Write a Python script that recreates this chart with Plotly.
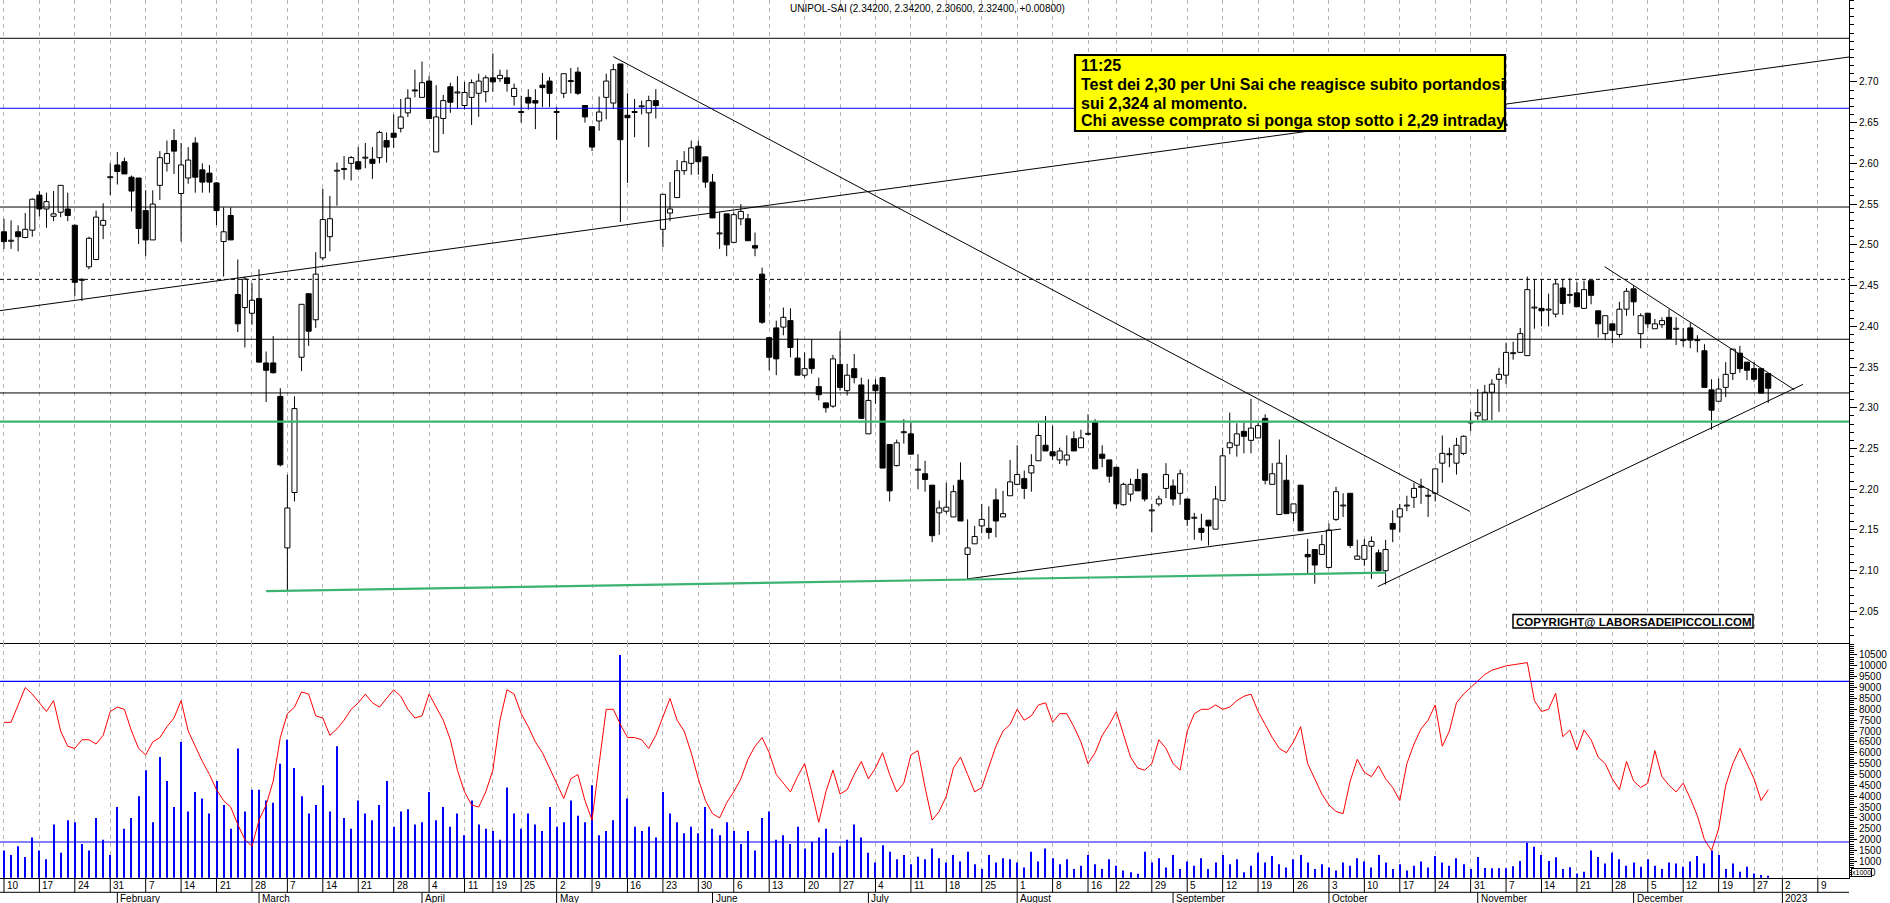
import plotly.graph_objects as go
import pandas as pd

W, H = 1890, 903
FONT = "Liberation Sans, Arial, sans-serif"

# ---------------- calendar (trading days, Borsa Italiana) ----------------
HOLIDAYS = ["2022-04-15", "2022-04-18", "2022-08-15", "2022-12-26"]
cal = pd.bdate_range("2022-01-10", "2023-01-13")
cal = cal[~cal.isin(pd.to_datetime(HOLIDAYS))]

WEEK_LABELS = ["10", "17", "24", "31", "7", "14", "21", "28", "7", "14", "21", "28",
               "4", "11", "19", "25", "2", "9", "16", "23", "30", "6", "13", "20", "27",
               "4", "11", "18", "25", "1", "8", "16", "22", "29", "5", "12", "19", "26",
               "3", "10", "17", "24", "31", "7", "14", "21", "28", "5", "12", "19", "27",
               "2", "9"]
MONTH_LABELS = ["February", "March", "April", "May", "June", "July", "August",
                "September", "October", "November", "December", "2023"]

week_pos = [k for k in range(len(cal))
            if k == 0 or cal[k].isocalendar()[1] != cal[k - 1].isocalendar()[1]]
month_pos = [k for k in range(1, len(cal)) if cal[k].month != cal[k - 1].month]

# ---------------- price data (UNIPOL-SAI daily) ----------------
OPEN = [
    2.516, 2.505, 2.516, 2.509, 2.518, 2.561, 2.544, 2.535, 2.540, 2.544,
    2.524, 2.457, 2.473, 2.482, 2.524, 2.583, 2.598, 2.602, 2.583, 2.582,
    2.542, 2.506, 2.573, 2.600, 2.628, 2.563, 2.582, 2.625, 2.592, 2.588,
    2.576, 2.504, 2.536, 2.439, 2.423, 2.416, 2.434, 2.355, 2.355, 2.314,
    2.128, 2.196, 2.362, 2.440, 2.408, 2.484, 2.510, 2.591, 2.593, 2.600,
    2.602, 2.607, 2.605, 2.607, 2.628, 2.637, 2.643, 2.662, 2.690, 2.681,
    2.701, 2.614, 2.655, 2.694, 2.687, 2.671, 2.681, 2.686, 2.688, 2.705,
    2.704, 2.705, 2.682, 2.663, 2.681, 2.677, 2.696, 2.701, 2.663, 2.686,
    2.701, 2.712, 2.671, 2.645, 2.652, 2.681, 2.674, 2.722, 2.659, 2.663,
    2.670, 2.662, 2.677, 2.519, 2.539, 2.558, 2.591, 2.600, 2.621, 2.608,
    2.577, 2.514, 2.538, 2.503, 2.532, 2.532, 2.499, 2.464, 2.386, 2.398,
    2.399, 2.407, 2.361, 2.340, 2.360, 2.326, 2.306, 2.302, 2.353, 2.321,
    2.348, 2.328, 2.268, 2.328, 2.337, 2.255, 2.229, 2.270, 2.268, 2.224,
    2.219, 2.205, 2.171, 2.173, 2.166, 2.211, 2.120, 2.133, 2.155, 2.152,
    2.187, 2.166, 2.192, 2.206, 2.213, 2.220, 2.235, 2.254, 2.246, 2.236,
    2.236, 2.262, 2.251, 2.268, 2.282, 2.243, 2.236, 2.227, 2.181, 2.194,
    2.212, 2.219, 2.174, 2.182, 2.201, 2.204, 2.195, 2.188, 2.165, 2.152,
    2.162, 2.151, 2.186, 2.251, 2.254, 2.271, 2.260, 2.263, 2.287, 2.206,
    2.169, 2.211, 2.171, 2.205, 2.120, 2.126, 2.120, 2.104, 2.163, 2.180,
    2.195, 2.114, 2.114, 2.130, 2.122, 2.100, 2.158, 2.166, 2.180, 2.190,
    2.203, 2.192, 2.195, 2.232, 2.243, 2.232, 2.244, 2.282, 2.290, 2.285,
    2.319, 2.335, 2.340, 2.367, 2.368, 2.364, 2.423, 2.422, 2.420, 2.415,
    2.447, 2.438, 2.441, 2.422, 2.456, 2.419, 2.391, 2.403, 2.390, 2.421,
    2.446, 2.391, 2.416, 2.397, 2.402, 2.411, 2.397, 2.383, 2.398, 2.383,
    2.370, 2.322, 2.308, 2.325, 2.342, 2.367, 2.356, 2.348, 2.348, 2.342]
HIGH = [
    2.532, 2.530, 2.524, 2.539, 2.557, 2.566, 2.564, 2.566, 2.573, 2.564,
    2.525, 2.459, 2.510, 2.542, 2.551, 2.600, 2.614, 2.607, 2.585, 2.582,
    2.567, 2.567, 2.615, 2.628, 2.642, 2.625, 2.620, 2.632, 2.600, 2.598,
    2.577, 2.546, 2.546, 2.482, 2.461, 2.453, 2.470, 2.369, 2.388, 2.324,
    2.218, 2.314, 2.427, 2.440, 2.491, 2.569, 2.560, 2.601, 2.609, 2.609,
    2.620, 2.625, 2.620, 2.640, 2.638, 2.660, 2.679, 2.691, 2.715, 2.725,
    2.707, 2.696, 2.684, 2.699, 2.707, 2.700, 2.703, 2.710, 2.708, 2.735,
    2.715, 2.715, 2.698, 2.683, 2.691, 2.691, 2.711, 2.706, 2.669, 2.710,
    2.717, 2.718, 2.671, 2.645, 2.682, 2.710, 2.722, 2.722, 2.686, 2.679,
    2.677, 2.683, 2.691, 2.562, 2.577, 2.604, 2.615, 2.628, 2.628, 2.608,
    2.587, 2.540, 2.538, 2.540, 2.550, 2.538, 2.515, 2.472, 2.386, 2.407,
    2.423, 2.422, 2.385, 2.368, 2.384, 2.337, 2.306, 2.365, 2.394, 2.354,
    2.366, 2.337, 2.335, 2.335, 2.338, 2.255, 2.261, 2.286, 2.282, 2.243,
    2.235, 2.205, 2.186, 2.208, 2.205, 2.233, 2.163, 2.155, 2.182, 2.179,
    2.201, 2.198, 2.236, 2.254, 2.223, 2.243, 2.281, 2.290, 2.278, 2.251,
    2.266, 2.271, 2.273, 2.292, 2.286, 2.254, 2.236, 2.227, 2.208, 2.213,
    2.225, 2.219, 2.182, 2.192, 2.232, 2.212, 2.224, 2.188, 2.171, 2.170,
    2.162, 2.204, 2.251, 2.294, 2.281, 2.282, 2.311, 2.282, 2.292, 2.232,
    2.261, 2.242, 2.182, 2.205, 2.139, 2.126, 2.144, 2.158, 2.203, 2.195,
    2.195, 2.138, 2.139, 2.142, 2.126, 2.138, 2.174, 2.182, 2.192, 2.208,
    2.213, 2.201, 2.225, 2.266, 2.251, 2.263, 2.266, 2.295, 2.323, 2.328,
    2.335, 2.349, 2.380, 2.381, 2.398, 2.461, 2.458, 2.458, 2.440, 2.458,
    2.458, 2.459, 2.454, 2.456, 2.456, 2.419, 2.413, 2.403, 2.430, 2.447,
    2.450, 2.416, 2.416, 2.409, 2.411, 2.421, 2.411, 2.398, 2.404, 2.389,
    2.378, 2.335, 2.336, 2.356, 2.372, 2.376, 2.356, 2.356, 2.349, 2.342]
LOW = [
    2.495, 2.495, 2.492, 2.508, 2.510, 2.535, 2.521, 2.529, 2.534, 2.529,
    2.437, 2.431, 2.470, 2.481, 2.507, 2.561, 2.574, 2.587, 2.541, 2.501,
    2.486, 2.506, 2.555, 2.590, 2.587, 2.504, 2.575, 2.564, 2.564, 2.564,
    2.524, 2.461, 2.506, 2.393, 2.374, 2.402, 2.356, 2.307, 2.342, 2.228,
    2.075, 2.185, 2.345, 2.376, 2.398, 2.481, 2.492, 2.548, 2.580, 2.579,
    2.592, 2.594, 2.581, 2.600, 2.601, 2.619, 2.638, 2.657, 2.681, 2.681,
    2.655, 2.614, 2.636, 2.662, 2.667, 2.666, 2.647, 2.657, 2.675, 2.688,
    2.700, 2.688, 2.671, 2.650, 2.666, 2.642, 2.669, 2.669, 2.629, 2.680,
    2.686, 2.684, 2.650, 2.615, 2.640, 2.654, 2.667, 2.528, 2.576, 2.632,
    2.660, 2.620, 2.655, 2.497, 2.529, 2.558, 2.586, 2.586, 2.586, 2.570,
    2.533, 2.495, 2.486, 2.503, 2.524, 2.505, 2.486, 2.403, 2.346, 2.340,
    2.389, 2.362, 2.340, 2.337, 2.342, 2.309, 2.294, 2.300, 2.321, 2.315,
    2.330, 2.287, 2.268, 2.305, 2.226, 2.185, 2.228, 2.256, 2.243, 2.200,
    2.197, 2.135, 2.144, 2.170, 2.166, 2.161, 2.090, 2.133, 2.146, 2.139,
    2.141, 2.166, 2.192, 2.205, 2.188, 2.197, 2.235, 2.247, 2.236, 2.231,
    2.229, 2.247, 2.251, 2.266, 2.225, 2.227, 2.208, 2.176, 2.180, 2.185,
    2.198, 2.185, 2.147, 2.179, 2.189, 2.180, 2.181, 2.155, 2.138, 2.137,
    2.131, 2.151, 2.186, 2.243, 2.240, 2.244, 2.244, 2.263, 2.206, 2.206,
    2.169, 2.170, 2.161, 2.149, 2.096, 2.084, 2.120, 2.103, 2.161, 2.166,
    2.128, 2.114, 2.106, 2.090, 2.099, 2.083, 2.135, 2.147, 2.173, 2.177,
    2.182, 2.166, 2.185, 2.208, 2.227, 2.218, 2.242, 2.271, 2.285, 2.285,
    2.285, 2.295, 2.329, 2.359, 2.368, 2.364, 2.397, 2.400, 2.400, 2.411,
    2.414, 2.428, 2.424, 2.422, 2.427, 2.386, 2.383, 2.379, 2.386, 2.413,
    2.413, 2.373, 2.398, 2.397, 2.398, 2.385, 2.377, 2.375, 2.373, 2.368,
    2.325, 2.273, 2.308, 2.313, 2.334, 2.343, 2.334, 2.332, 2.318, 2.306]
CLOSE = [
    2.504, 2.505, 2.510, 2.519, 2.556, 2.544, 2.553, 2.538, 2.573, 2.536,
    2.454, 2.457, 2.508, 2.534, 2.530, 2.583, 2.590, 2.587, 2.566, 2.520,
    2.506, 2.550, 2.607, 2.612, 2.615, 2.598, 2.604, 2.583, 2.577, 2.577,
    2.542, 2.516, 2.506, 2.403, 2.458, 2.432, 2.356, 2.346, 2.343, 2.230,
    2.177, 2.299, 2.427, 2.394, 2.464, 2.531, 2.532, 2.591, 2.593, 2.607,
    2.593, 2.607, 2.600, 2.638, 2.620, 2.632, 2.657, 2.680, 2.689, 2.699,
    2.655, 2.657, 2.677, 2.675, 2.687, 2.687, 2.699, 2.701, 2.705, 2.700,
    2.708, 2.698, 2.692, 2.663, 2.674, 2.674, 2.693, 2.686, 2.663, 2.710,
    2.701, 2.686, 2.657, 2.620, 2.663, 2.701, 2.715, 2.629, 2.656, 2.663,
    2.670, 2.677, 2.671, 2.562, 2.544, 2.591, 2.602, 2.619, 2.602, 2.577,
    2.533, 2.514, 2.500, 2.537, 2.541, 2.505, 2.496, 2.405, 2.362, 2.360,
    2.411, 2.374, 2.340, 2.348, 2.348, 2.316, 2.300, 2.360, 2.325, 2.340,
    2.337, 2.287, 2.309, 2.321, 2.226, 2.198, 2.257, 2.270, 2.243, 2.224,
    2.212, 2.143, 2.177, 2.178, 2.197, 2.161, 2.128, 2.142, 2.163, 2.147,
    2.161, 2.170, 2.209, 2.218, 2.201, 2.229, 2.266, 2.247, 2.241, 2.247,
    2.242, 2.247, 2.263, 2.268, 2.225, 2.238, 2.216, 2.182, 2.206, 2.206,
    2.198, 2.188, 2.174, 2.188, 2.218, 2.188, 2.219, 2.163, 2.165, 2.147,
    2.155, 2.188, 2.241, 2.257, 2.268, 2.265, 2.275, 2.278, 2.211, 2.219,
    2.232, 2.170, 2.182, 2.149, 2.117, 2.107, 2.132, 2.150, 2.197, 2.180,
    2.131, 2.118, 2.131, 2.136, 2.100, 2.126, 2.151, 2.176, 2.180, 2.201,
    2.203, 2.192, 2.225, 2.244, 2.243, 2.254, 2.265, 2.282, 2.294, 2.319,
    2.329, 2.341, 2.368, 2.367, 2.391, 2.445, 2.423, 2.419, 2.421, 2.452,
    2.428, 2.439, 2.424, 2.445, 2.438, 2.403, 2.413, 2.395, 2.421, 2.443,
    2.430, 2.413, 2.403, 2.403, 2.407, 2.385, 2.397, 2.383, 2.383, 2.383,
    2.325, 2.297, 2.323, 2.341, 2.372, 2.348, 2.346, 2.335, 2.318, 2.324]

# volume (axis units, x1000) and red oscillator line
VOLUME = [
    1500, 1300, 1700, 1200, 2100, 1500, 1100, 2700, 1400, 2900, 2800, 1800, 1500, 3000, 2000, 1300,
    3500, 2500, 3000, 4000, 5200, 2800, 5800, 4700, 3500, 6500, 3300, 4200, 3900, 3200, 4700, 3600, 2500, 6200, 3300, 4300,
    4300, 3800, 3700, 5500, 6600, 5300, 4000, 3200, 3600, 4500, 3300, 6300, 3000, 2500, 3800, 3200, 2900, 3600, 4700, 2600, 3300, 3400, 2700,
    2800, 4200, 2900, 3500, 2600, 3200, 2200, 3800, 2700, 2500, 2400, 2000, 4400, 3200, 2500, 3200, 2700, 2400, 3500,
    2600, 2800, 3800, 3100, 2800, 4500, 2200, 2400, 2900, 10500, 3900, 2600, 2400, 2600, 2100, 4200, 3200, 2800, 2300, 2600, 2300, 3500,
    2500, 2200, 2800, 2400, 1800, 2400, 1500, 3000, 3300, 2000, 2200, 1800, 2600, 1600, 1900, 2100, 2500, 1400, 1700, 2000, 2700, 2100,
    1400, 950, 1750, 1450, 1100, 1300, 870, 1220, 1100, 1600, 1150, 950, 1300, 1000, 1450, 870, 650, 1300, 950, 1150, 1100,
    950, 720, 1450, 1000, 1600, 1150, 870, 1100, 650, 800, 1300, 870, 650, 1100, 800, 580, 500, 430, 1450, 950, 1150, 720,
    1300, 650, 1000, 800, 1150, 650, 950, 1300, 870, 1100, 500, 800, 1400, 950, 1250, 870, 720, 1100, 1300, 950, 650, 870,
    720, 580, 950, 800, 1150, 1000, 720, 1300, 950, 650, 870, 580, 800, 1000, 720, 1250, 950, 800, 1150, 870, 650,
    1200, 700, 690, 690, 690, 780, 1020, 1860, 1680, 1300, 1020, 1190, 650, 730, 450, 530, 1500, 1200, 900, 1400, 1100, 800,
    950, 750, 1100, 800, 650, 950, 900, 750, 1000, 1250, 900, 1500, 1300, 650, 900, 520, 750, 450, 380, 340]
RED = [
    7400, 7400, 8200, 9000, 8700, 8300, 7900, 8400, 7000, 6300,
    6200, 6600, 6600, 6400, 6800, 7900, 8100, 8000, 7000, 6200,
    5900, 6500, 6700, 7200, 7600, 8400, 7000, 6300, 5600, 5000,
    4300, 3800, 3500, 2700, 2000, 1700, 2900, 3600, 4700, 6700,
    7800, 8100, 8800, 8700, 7700, 7600, 6800, 7100, 7500, 8000,
    8300, 8700, 8300, 8100, 8500, 8900, 8600, 8000, 7600, 7700,
    8700, 8100, 7500, 6600, 5200, 4200, 3600, 3500, 4200, 5200,
    7500, 8900, 8700, 7800, 7200, 6500, 6000, 5300, 4600, 3900,
    4800, 5000, 3800, 2900, 5500, 8000, 8000, 7300, 6700, 6700,
    6600, 6200, 6800, 7700, 8500, 7500, 7000, 6000, 4800, 3800,
    3200, 3000, 3700, 4200, 4800, 5700, 6300, 6700, 6000, 5000,
    4600, 4200, 4900, 5500, 4200, 2800, 4200, 5200, 4100, 4300,
    5000, 5600, 4800, 5300, 6000, 5000, 4200, 4600, 5900, 6100,
    4400, 2900, 3300, 4000, 5300, 5800, 5000, 4200, 4400, 5400,
    6300, 7000, 7300, 8000, 7500, 7700, 8200, 8300, 7400, 7800,
    7800, 7200, 6500, 5500, 6000, 6800, 7300, 7900, 6900, 5800,
    5300, 5200, 5500, 6600, 6200, 5500, 5200, 7000, 7800, 8000,
    8000, 8200, 8000, 8100, 8400, 8600, 8700, 7900, 7300, 6700,
    6200, 6000, 6500, 7200, 5500, 4800, 4100, 3600, 3300, 3200,
    4700, 5700, 5100, 4900, 5400, 4800, 4400, 3800, 5500, 6400,
    7100, 7500, 8200, 6300, 7000, 8300, 8700, 9000, 9300, 9600,
    9800, 9900, 10000, 10050, 10100, 10150, 8400, 7900, 8000, 8740,
    6740, 7050, 6130, 7050, 6600, 5800, 5500, 4800, 4300, 5600,
    4700, 4400, 4600, 6100, 4900, 4500, 4200, 4600, 3900, 3100,
    2000, 1500, 2500, 4500, 5500, 6200, 5500, 4800, 3800, 4300]

N = len(OPEN)
assert len(HIGH) == N and len(LOW) == N and len(CLOSE) == N
assert len(VOLUME) == N and len(RED) == N
assert len(week_pos) == len(WEEK_LABELS) and len(month_pos) == len(MONTH_LABELS)
X = list(range(N))

# horizontal levels (price panel)
H_BLUE = 2.6676
H_BLACK = [2.5464, 2.3841, 2.3182]
H_DASHED = 2.4576
H_GREEN = 2.2829
H_TOP = 2.7535
# volume panel levels
V_LEVELS = [9290, 1894]
# trend lines: (x0, y0, x1, y1) in (trading-day index, price)
TREND_BLACK = [(-0.56, 2.4192, 260.4, 2.7305),
               (86.0, 2.731, 206.9, 2.1727),
               (136.0, 2.090, 188.7, 2.1512),
               (193.9, 2.0805, 253.9, 2.3287),
               (225.9, 2.4733, 252.7, 2.3220)]
TREND_GREEN = [(37.0, 2.0749, 195.0, 2.0976)]

PRICE_TICKS = [2.05, 2.10, 2.15, 2.20, 2.25, 2.30, 2.35, 2.40, 2.45, 2.50, 2.55, 2.60, 2.65, 2.70]
VOL_TICKS = list(range(500, 11000, 500))

TITLE = "UNIPOL-SAI (2.34200, 2.34200, 2.30600, 2.32400, +0.00800)"
NOTE_LINES = ["11:25",
              "Test dei 2,30 per Uni Sai che reagisce subito portandosi",
              "sui 2,324 al momento.",
              "Chi avesse comprato si ponga stop sotto i 2,29 intraday."]
COPYRIGHT = "COPYRIGHT@ LABORSADEIPICCOLI.COM"

# ---------------- geometry helpers (pixel -> paper) ----------------
def PX(px):
    return px / W

def PY(py):
    return 1 - py / H

XR = [-0.56, 260.4]
XDOM = [0, PX(1849)]
PRICE_DOM = [PY(643.3), 1.0]
VOL_DOM = [PY(877.7), PY(643.3)]

fig = go.Figure()

# volume bars + red line
fig.add_trace(go.Bar(x=X, y=VOLUME, width=0.15, marker=dict(color="#0000FF", line=dict(width=0)),
                     xaxis="x2", yaxis="y2", hoverinfo="skip"))
fig.add_trace(go.Scatter(x=X, y=RED, mode="lines", line=dict(color="#FF0000", width=1),
                         xaxis="x2", yaxis="y2", hoverinfo="skip"))

# candle bodies
body_base, body_h, body_col = [], [], []
for o, c in zip(OPEN, CLOSE):
    h = abs(c - o)
    if h < 0.0012:
        body_base.append(min(o, c) - (0.0012 - h) / 2)
        body_h.append(0.0012)
    else:
        body_base.append(min(o, c))
        body_h.append(h)
    body_col.append("#FFFFFF" if c >= o else "#000000")
fig.add_trace(go.Bar(x=X, y=body_h, base=body_base, width=0.72,
                     marker=dict(color=body_col, line=dict(color="#000000", width=1)),
                     xaxis="x", yaxis="y", hoverinfo="skip"))

# wicks (drawn outside the bodies)
wx, wy = [], []
for k in range(N):
    top = max(OPEN[k], CLOSE[k])
    bot = min(OPEN[k], CLOSE[k])
    if HIGH[k] > top:
        wx += [k, k, None]
        wy += [top, HIGH[k], None]
    if LOW[k] < bot:
        wx += [k, k, None]
        wy += [LOW[k], bot, None]
fig.add_trace(go.Scatter(x=wx, y=wy, mode="lines", line=dict(color="#000000", width=1),
                         xaxis="x", yaxis="y", hoverinfo="skip"))

shapes = []

def hline(yval, color, width=1, dash="solid", yref="y", xref="x domain"):
    shapes.append(dict(type="line", xref=xref, x0=0, x1=1, yref=yref, y0=yval, y1=yval,
                       line=dict(color=color, width=width, dash=dash), layer="above"))

hline(H_TOP, "#000000", 1)
hline(H_BLUE, "#0000FF", 1)
for v in H_BLACK:
    hline(v, "#000000", 1)
hline(H_DASHED, "#000000", 1, dash="4px,3px")
hline(H_GREEN, "#3CB371", 2.2)
for v in V_LEVELS:
    hline(v, "#0000FF", 1.2, yref="y2", xref="x2 domain")

for (x0, y0, x1, y1) in TREND_BLACK:
    shapes.append(dict(type="line", xref="x", yref="y", x0=x0, y0=y0, x1=x1, y1=y1,
                       line=dict(color="#000000", width=1)))
for (x0, y0, x1, y1) in TREND_GREEN:
    shapes.append(dict(type="line", xref="x", yref="y", x0=x0, y0=y0, x1=x1, y1=y1,
                       line=dict(color="#3CB371", width=2.2)))

# note box
shapes.append(dict(type="rect", xref="paper", yref="paper", x0=PX(1075), x1=PX(1505),
                   y0=PY(131), y1=PY(55), fillcolor="#FFFF00", line=dict(color="#000000", width=2.2)))
# copyright box
shapes.append(dict(type="rect", xref="paper", yref="paper", x0=PX(1513), x1=PX(1753),
                   y0=PY(628), y1=PY(614.5), fillcolor="#FFFFFF", line=dict(color="#000000", width=1.5)))

annotations = []

# ---- bottom date scale: week row and month row (positioned on the x axis scale) ----
ROW1_TOP, ROW1_BOT, ROW2_BOT = 877.7, 892.3, 903
shapes.append(dict(type="line", xref="x domain", yref="paper", x0=0, x1=1,
                   y0=PY(ROW1_BOT), y1=PY(ROW1_BOT), line=dict(color="#000000", width=1)))
for p, lab in zip(week_pos, WEEK_LABELS):
    shapes.append(dict(type="line", xref="x", yref="paper", x0=p, x1=p,
                       y0=PY(ROW1_BOT), y1=PY(ROW1_TOP), line=dict(color="#000000", width=1)))
    annotations.append(dict(text=lab, x=p, xref="x", y=PY((ROW1_TOP + ROW1_BOT) / 2 + 0.5), yref="paper",
                            xanchor="left", yanchor="middle", xshift=1, showarrow=False,
                            font=dict(family=FONT, size=10, color="#000000")))
for p, lab in zip(month_pos, MONTH_LABELS):
    shapes.append(dict(type="line", xref="x", yref="paper", x0=p, x1=p,
                       y0=PY(ROW2_BOT), y1=PY(ROW1_BOT), line=dict(color="#000000", width=1)))
    annotations.append(dict(text=lab, x=p, xref="x", y=PY((ROW1_BOT + ROW2_BOT) / 2 + 0.8), yref="paper",
                            xanchor="left", yanchor="middle", xshift=1, showarrow=False,
                            font=dict(family=FONT, size=10, color="#000000")))

annotations.append(dict(text=TITLE, x=PX(788), y=PY(9), xref="paper", yref="paper",
                        xanchor="left", yanchor="middle", showarrow=False,
                        font=dict(family=FONT, size=10, color="#000000")))
for txt, yy in zip(NOTE_LINES, [65.5, 84.6, 103.2, 120.9]):
    annotations.append(dict(text="<b>" + txt + "</b>", x=PX(1078.5), y=PY(yy), xref="paper", yref="paper",
                            xanchor="left", yanchor="middle", showarrow=False,
                            font=dict(family=FONT, size=16, color="#000000")))
annotations.append(dict(text="<b>" + COPYRIGHT + "</b>", x=PX(1633), y=PY(621.5), xref="paper", yref="paper",
                        xanchor="center", yanchor="middle", showarrow=False,
                        font=dict(family=FONT, size=11.5, color="#000000")))
annotations.append(dict(text="x1000", x=PX(1851), y=PY(872.5), xref="paper", yref="paper",
                        xanchor="left", yanchor="middle", showarrow=False,
                        bgcolor="#FFFFFF", bordercolor="#000000", borderwidth=1, borderpad=0,
                        font=dict(family=FONT, size=7, color="#000000")))

grid_axis = dict(range=XR, domain=XDOM, tickmode="array", tickvals=week_pos,
                 showticklabels=False, ticks="", showgrid=True, gridcolor="#B4B4B4",
                 griddash="4px,4px", gridwidth=1, zeroline=False, showline=True,
                 linecolor="#000000", linewidth=1, fixedrange=True)

fig.update_layout(
    width=W, height=H, margin=dict(l=0, r=0, t=0, b=0),
    paper_bgcolor="#FFFFFF", plot_bgcolor="#FFFFFF", showlegend=False,
    barmode="overlay", hovermode=False,
    font=dict(family=FONT, size=10, color="#000000"),
    xaxis=dict(anchor="y", **grid_axis),
    xaxis2=dict(anchor="y2", matches="x", **grid_axis),
    yaxis=dict(domain=PRICE_DOM, range=[2.0109, 2.8005], side="right", anchor="x",
               tickmode="array", tickvals=PRICE_TICKS, ticktext=["%.2f" % v for v in PRICE_TICKS],
               ticks="outside", ticklen=7, tickcolor="#000000", showline=True, linecolor="#000000",
               showgrid=False, zeroline=False,
               minor=dict(dtick=0.01, ticks="outside", ticklen=4, tickcolor="#000000", showgrid=False),
               tickfont=dict(family=FONT, size=10, color="#000000"), fixedrange=True),
    yaxis2=dict(domain=VOL_DOM, range=[251, 11038], side="right", anchor="x2",
                tickmode="array", tickvals=VOL_TICKS, ticktext=[str(v) for v in VOL_TICKS],
                ticks="outside", ticklen=7, tickcolor="#000000", showline=True, linecolor="#000000",
                showgrid=False, zeroline=False,
                minor=dict(dtick=100, ticks="outside", ticklen=4, tickcolor="#000000", showgrid=False),
                tickfont=dict(family=FONT, size=10, color="#000000"), fixedrange=True),
    shapes=shapes, annotations=annotations,
)

fig.write_html("out.html", config={"displayModeBar": False},
               post_script="document.body.style.margin='0';document.body.style.overflow='hidden';")
